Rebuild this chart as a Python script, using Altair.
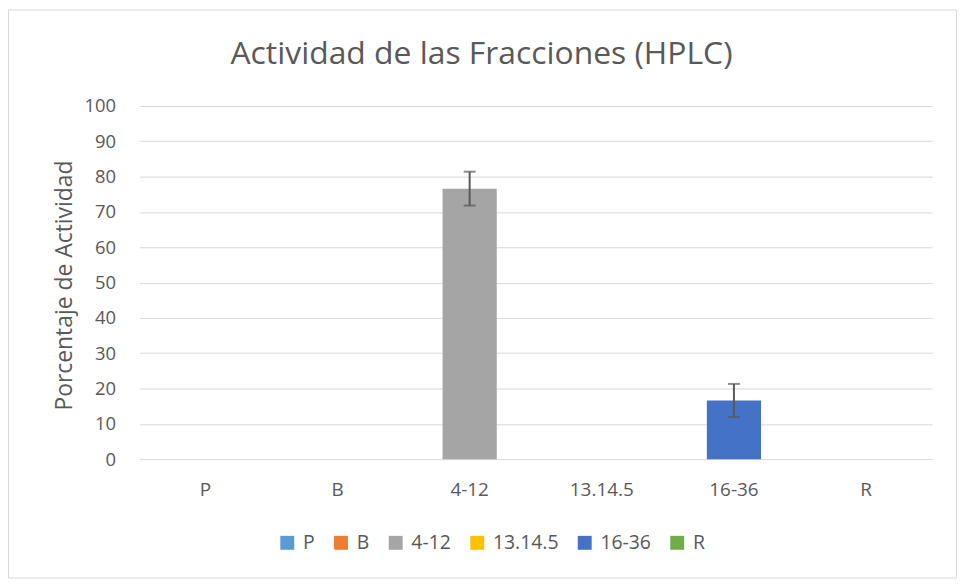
import altair as alt
import pandas as pd

categories = ["P", "B", "4-12", "13.14.5", "16-36", "R"]
values = [0, 0, 76.6, 0, 16.6, 0]
errors = [0, 0, 4.8, 0, 4.7, 0]
colors = ["#5b9bd5", "#ed7d31", "#a5a5a5", "#ffc000", "#4472c4", "#70ad47"]
title_text = "Actividad de las Fracciones (HPLC)"
y_ticks = list(range(0, 101, 10))

df = pd.DataFrame({"cat": categories, "val": values, "err": errors})
df["lo"] = df["val"] - df["err"]
df["hi"] = df["val"] + df["err"]
err_df = df[df["err"] > 0]

FONT = "Open Sans"
TXT = "#595959"
GRID = "#d9d9d9"

x_enc = alt.X("cat:N", sort=categories, title=None,
              scale=alt.Scale(paddingInner=0.59, paddingOuter=0.295),
              axis=alt.Axis(labelAngle=0, domain=False, ticks=False, grid=False,
                            labelPadding=22, labelFontSize=19, labelColor=TXT, labelFont=FONT))

y_axis = alt.Axis(values=y_ticks, domain=False, ticks=False, labelOverlap=False,
                  gridColor=GRID, gridWidth=1, labelPadding=24, labelFontSize=18.5,
                  labelColor=TXT, labelFont=FONT, titleFont=FONT, titleFontSize=23,
                  titleFontWeight="normal", titleColor=TXT,
                  titleX=-75, titleY=180, titleAngle=270,
                  titleAlign="center", titleBaseline="middle")
y_scale = alt.Scale(domain=[0, 100])
YT = "Porcentaje de Actividad"

bars = alt.Chart(df).mark_bar().encode(
    x=x_enc,
    y=alt.Y("val:Q", title=YT, scale=y_scale, axis=y_axis),
    color=alt.Color("cat:N", sort=categories,
                    scale=alt.Scale(domain=categories, range=colors),
                    legend=alt.Legend(title=None, orient="none", direction="horizontal",
                                      legendX=139, legendY=429, symbolType="square",
                                      symbolSize=196, symbolStrokeWidth=0,
                                      labelFontSize=19.5, labelColor=TXT, labelFont=FONT,
                                      columnPadding=16, labelOffset=6)),
)

rules = alt.Chart(err_df).mark_rule(color="#595959", strokeWidth=2).encode(
    x=alt.X("cat:N", sort=categories),
    y=alt.Y("lo:Q", title=YT, scale=y_scale, axis=y_axis), y2="hi:Q")
caps_hi = alt.Chart(err_df).mark_tick(color="#595959", thickness=2, size=12).encode(
    x=alt.X("cat:N", sort=categories),
    y=alt.Y("hi:Q", title=YT, scale=y_scale, axis=y_axis))
caps_lo = alt.Chart(err_df).mark_tick(color="#595959", thickness=2, size=12).encode(
    x=alt.X("cat:N", sort=categories),
    y=alt.Y("lo:Q", title=YT, scale=y_scale, axis=y_axis))

one = pd.DataFrame({"t": [title_text]})
border = alt.Chart(one).mark_rect(
    fill=None, stroke=GRID, strokeWidth=1).encode(
    x=alt.value(-131.5), x2=alt.value(821.5), y=alt.value(-96.5), y2=alt.value(474.5))

title = alt.Chart(one).mark_text(
    font=FONT, fontSize=32, color=TXT, align="center", baseline="alphabetic").encode(
    text="t:N", x=alt.value(344), y=alt.value(-42))

chart = alt.layer(border, title, bars, rules, caps_hi, caps_lo).properties(
    width=797, height=355,
    padding={"left": 132, "top": 97, "right": 25, "bottom": 120},
    autosize=alt.AutoSizeParams(type="none"),
    background="white",
).configure_view(stroke=None)

chart.save("out.html", embed_options={"renderer": "svg", "actions": False})
